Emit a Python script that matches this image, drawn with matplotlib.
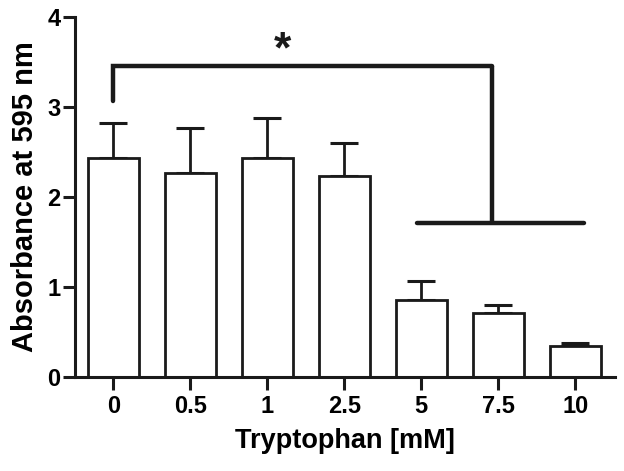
import matplotlib
matplotlib.use("Agg")
import matplotlib.pyplot as plt
import numpy as np

categories = ["0", "0.5", "1", "2.5", "5", "7.5", "10"]
means = [2.43, 2.27, 2.43, 2.23, 0.86, 0.71, 0.34]
errors = [0.39, 0.50, 0.45, 0.37, 0.21, 0.09, 0.04]

plt.rcParams['font.family'] = ['Liberation Sans', 'DejaVu Sans']
plt.rcParams['font.weight'] = 'bold'

fig = plt.figure(figsize=(6.24, 4.71), dpi=100)
ax = fig.add_axes([0.120, 0.1996, 0.866, 0.7644])

x = np.arange(len(categories))
ax.bar(x, means, width=0.66, color='white', edgecolor='#1a1a1a', linewidth=2.0, zorder=2)
ax.errorbar(x, means, yerr=[np.zeros(len(errors)), errors], fmt='none',
            ecolor='#1a1a1a', elinewidth=2.0, capsize=10, capthick=2.2, zorder=1)

ax.set_xlim(-0.5, 6.52)
ax.set_ylim(0, 4)
ax.set_yticks([0, 1, 2, 3, 4])
ax.set_xticks(x)
ax.set_xticklabels(categories)

for s in ['top', 'right']:
    ax.spines[s].set_visible(False)
for s in ['left', 'bottom']:
    ax.spines[s].set_linewidth(2.2)
    ax.spines[s].set_color('#1a1a1a')
ax.tick_params(axis='both', width=2.2, length=9, color='#1a1a1a', labelsize=17)
ax.tick_params(axis='x', pad=4)
ax.tick_params(axis='y', pad=1.5)
for lab in ax.get_xticklabels() + ax.get_yticklabels():
    lab.set_fontweight('bold')

ax.set_xlabel('Tryptophan [mM]', fontsize=19.5, fontweight='bold', labelpad=7)
ax.set_ylabel('Absorbance at 595 nm', fontsize=21, fontweight='bold', labelpad=6)

# significance bracket
lw = 3.2
c = '#1a1a1a'
ax.plot([0, 0, 4.92], [3.07, 3.46, 3.46], color=c, lw=lw, solid_capstyle='round', solid_joinstyle='miter', clip_on=False)
ax.plot([4.92, 4.92], [3.46, 1.71], color=c, lw=lw, solid_capstyle='butt', clip_on=False)
ax.plot([3.94, 6.12], [1.71, 1.71], color=c, lw=lw, solid_capstyle='round', clip_on=False)
ax.text(2.2, 3.62, '*', fontsize=32, fontweight='bold', ha='center', va='center', color=c)

fig.savefig('out.png', dpi=100)
